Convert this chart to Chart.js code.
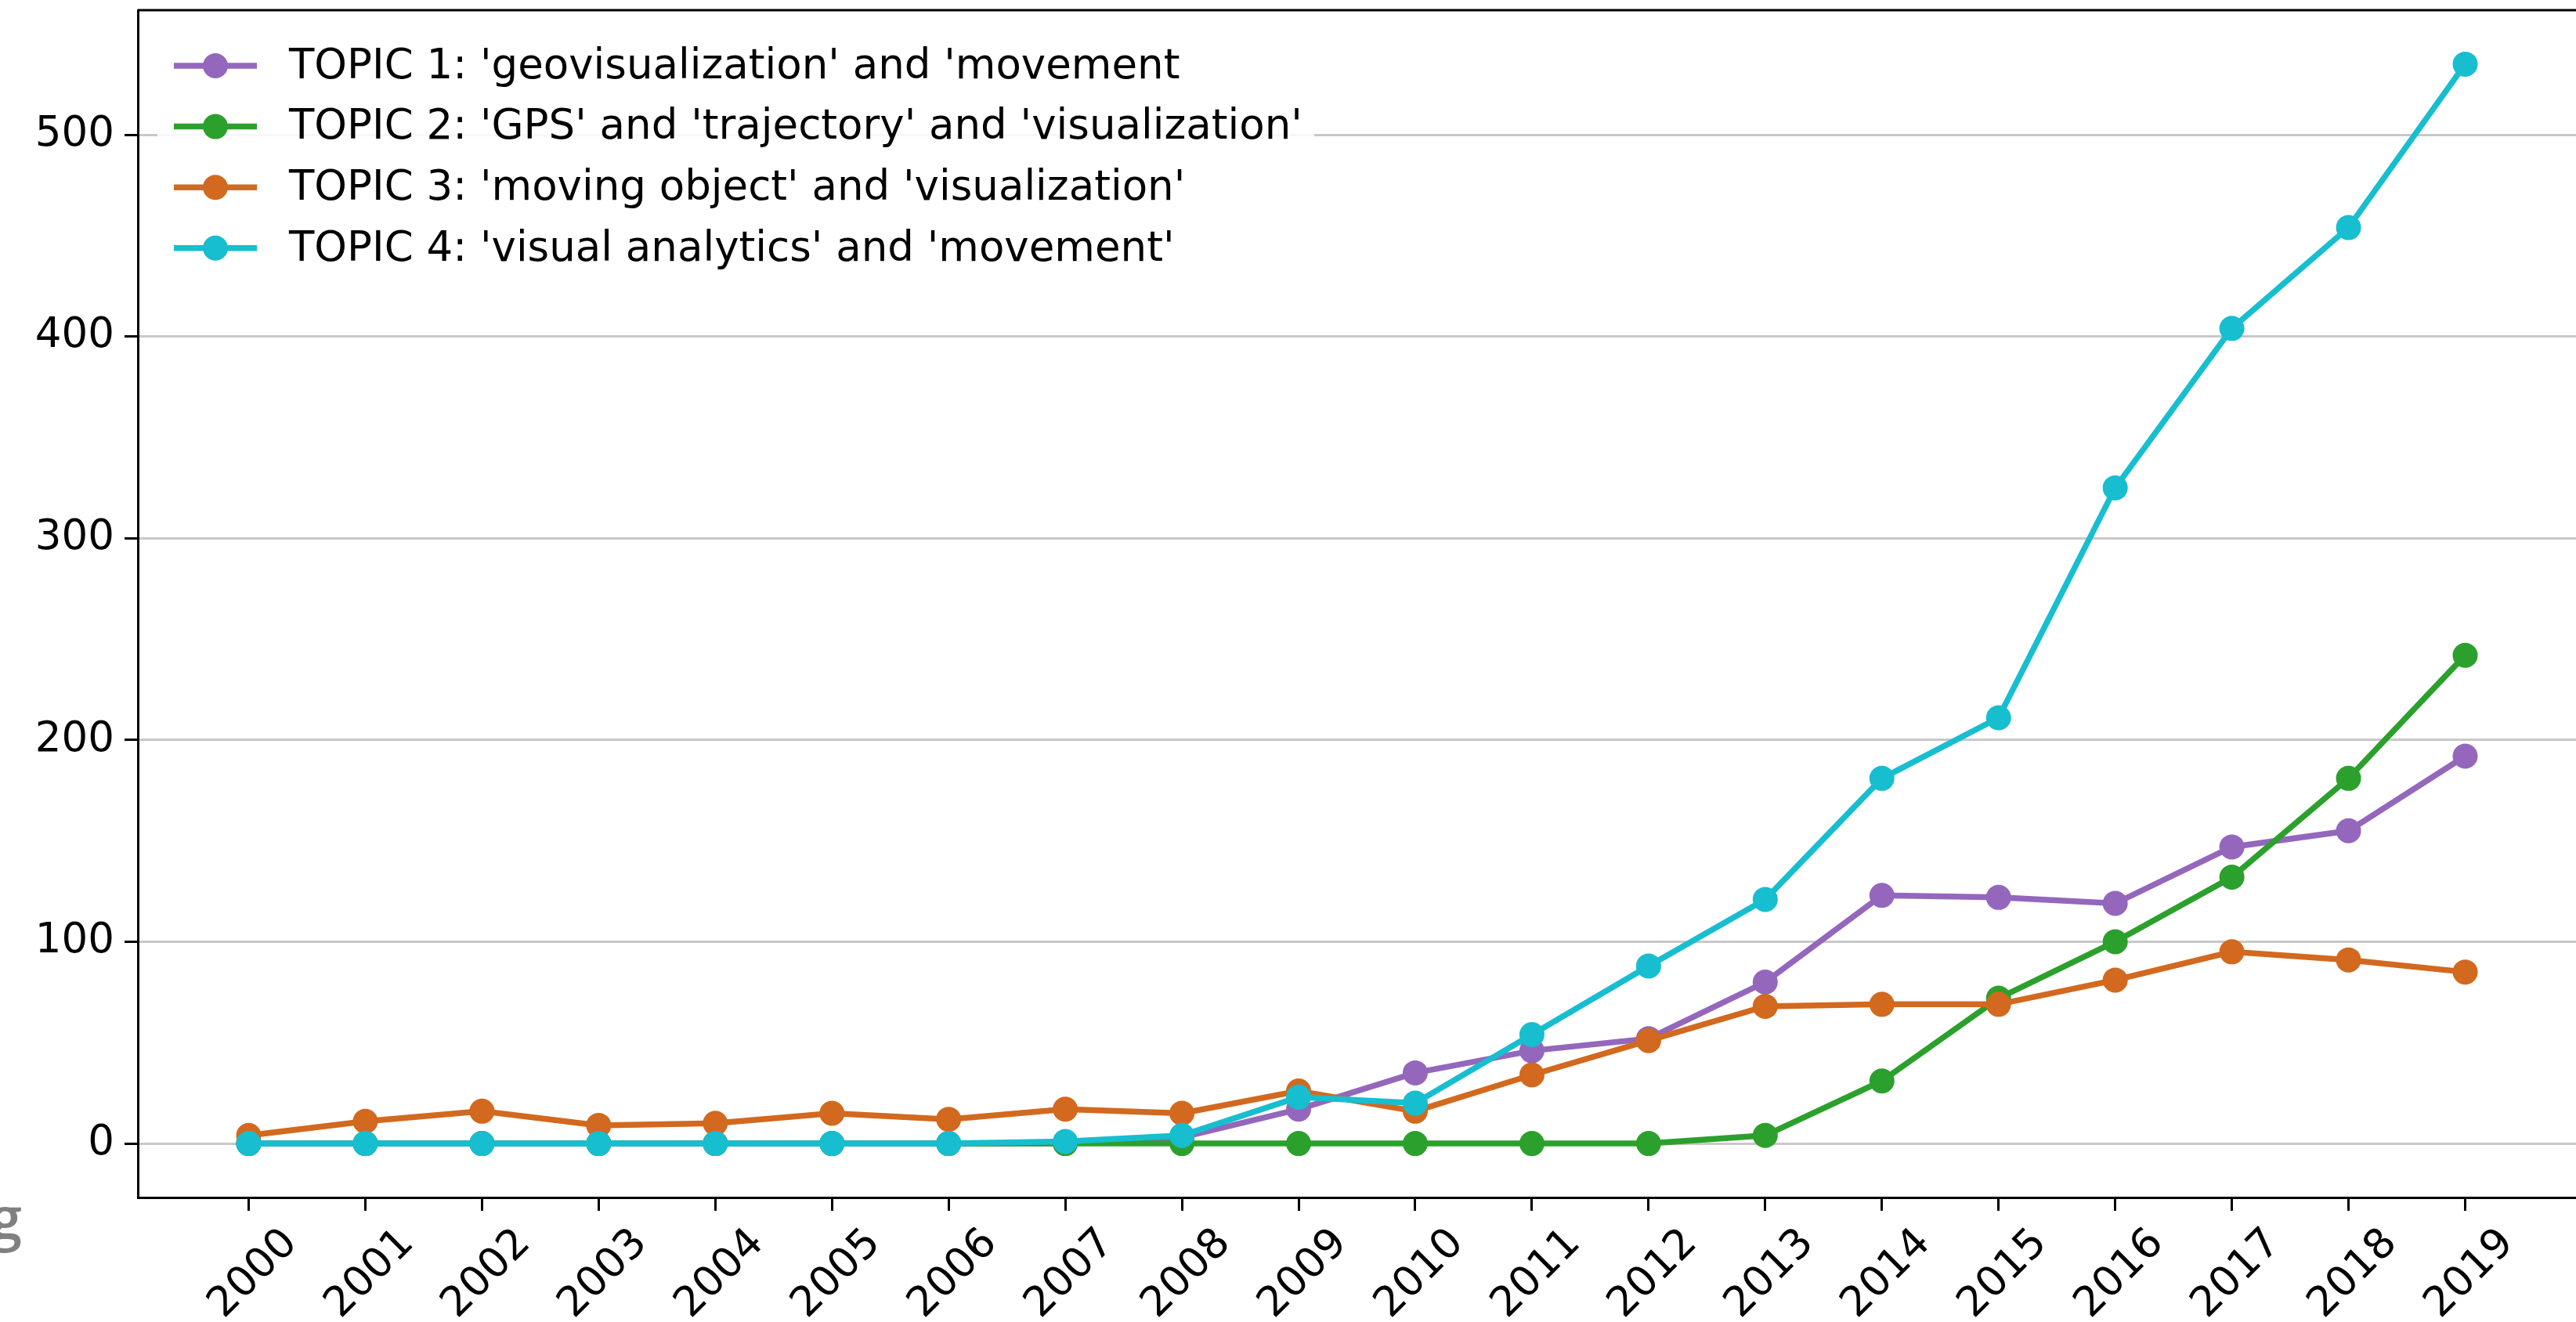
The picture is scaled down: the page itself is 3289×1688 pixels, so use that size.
<!DOCTYPE html>
<html>
<head>
<meta charset="utf-8">
<script src="https://cdn.jsdelivr.net/npm/chart.js@4/dist/chart.umd.min.js"></script>
<style>
  html, body { margin: 0; padding: 0; background: #fff; overflow: hidden; }
  #wrap { width: 3289px; height: 1688px; position: relative; }
  #chart { display: block; }
</style>
</head>
<body>
<div id="wrap"><canvas id="chart" width="3289" height="1688"></canvas></div>
<script>
const years = [2000, 2001, 2002, 2003, 2004, 2005, 2006, 2007, 2008, 2009,
               2010, 2011, 2012, 2013, 2014, 2015, 2016, 2017, 2018, 2019];

const topicLabels = [
  "TOPIC 1: 'geovisualization' and 'movement",
  "TOPIC 2: 'GPS' and 'trajectory' and 'visualization'",
  "TOPIC 3: 'moving object' and 'visualization'",
  "TOPIC 4: 'visual analytics' and 'movement'"
];
const topicColors = ['#9467bd', '#2ca02c', '#d2691e', '#17becf'];

const topic1 = [0, 0, 0, 0, 0, 0, 0, 0, 3, 17, 35, 46, 52, 80, 123, 122, 119, 147, 155, 192];
const topic2 = [0, 0, 0, 0, 0, 0, 0, 0, 0, 0, 0, 0, 0, 4, 31, 72, 100, 132, 181, 242];
const topic3 = [4, 11, 16, 9, 10, 15, 12, 17, 15, 26, 16, 34, 51, 68, 69, 69, 81, 95, 91, 85];
const topic4 = [0, 0, 0, 0, 0, 0, 0, 1, 4, 23, 20, 54, 88, 121, 181, 211, 325, 404, 454, 535];

const yTicks = [0, 100, 200, 300, 400, 500];

const FONT = '"DejaVu Sans", sans-serif';
const FS = 53;

const series = [topic1, topic2, topic3, topic4];
const datasets = series.map((vals, i) => ({
  label: topicLabels[i],
  data: vals.map((v, j) => ({ x: years[j], y: v })),
  borderColor: topicColors[i],
  backgroundColor: topicColors[i],
  borderWidth: 7.5,
  pointRadius: 16,
  pointBorderWidth: 0,
  pointHoverRadius: 16,
  tension: 0,
  order: series.length - i   // later topics on top, like matplotlib
}));

// top spine + stray gray glyph at bottom-left
const framePlugin = {
  id: 'frame',
  afterDraw(chart) {
    const { ctx, chartArea: a } = chart;
    ctx.save();
    ctx.strokeStyle = '#000';
    ctx.lineWidth = 3;
    ctx.beginPath();
    ctx.moveTo(a.left, a.top);
    ctx.lineTo(a.right, a.top);
    ctx.stroke();

    ctx.fillStyle = '#808080';
    ctx.font = '600 74px "Open Sans", sans-serif';
    ctx.textAlign = 'right';
    ctx.textBaseline = 'alphabetic';
    ctx.fillText('g', 28, 1582);
    ctx.restore();
  }
};

// matplotlib-style legend inside the axes (upper left)
const legendPlugin = {
  id: 'innerLegend',
  afterDatasetsDraw(chart) {
    const { ctx, chartArea: a } = chart;
    const x0 = a.left + 25, y0 = a.top + 25;
    const rowGap = 77.6, firstRow = y0 + 46;
    ctx.save();
    ctx.fillStyle = 'rgba(255,255,255,0.85)';
    ctx.fillRect(x0, y0, 1477, 330);
    ctx.font = FS + 'px ' + FONT;
    ctx.textBaseline = 'middle';
    ctx.textAlign = 'left';
    chart.data.datasets.forEach((ds, i) => {
      const y = firstRow + i * rowGap;
      ctx.strokeStyle = ds.borderColor;
      ctx.lineWidth = 7.5;
      ctx.beginPath();
      ctx.moveTo(x0 + 21, y);
      ctx.lineTo(x0 + 127, y);
      ctx.stroke();
      ctx.fillStyle = ds.borderColor;
      ctx.beginPath();
      ctx.arc(x0 + 74, y, 16, 0, Math.PI * 2);
      ctx.fill();
      ctx.fillStyle = '#000';
      ctx.fillText(ds.label, x0 + 168, y + 2);
    });
    ctx.restore();
  }
};

new Chart(document.getElementById('chart').getContext('2d'), {
  type: 'line',
  data: { datasets },
  plugins: [legendPlugin, framePlugin],
  options: {
    responsive: false,
    animation: false,
    devicePixelRatio: 1,
    layout: { autoPadding: false, padding: { top: 13, left: 0, right: 0, bottom: 0 } },
    plugins: {
      legend: { display: false },
      tooltip: { enabled: false }
    },
    scales: {
      x: {
        type: 'linear',
        min: years[0] - 0.95,
        max: years[years.length - 1] + 0.95,
        afterFit(scale) {
          scale.height = 159;
          scale.paddingLeft = 0;
          scale.paddingRight = 0;
        },
        afterBuildTicks(scale) {
          scale.ticks = years.map(v => ({ value: v }));
        },
        grid: {
          display: true,
          drawOnChartArea: false,
          drawTicks: true,
          tickLength: 17,
          tickColor: '#000',
          tickWidth: 3
        },
        border: { display: true, color: '#000', width: 3 },
        ticks: {
          autoSkip: false,
          minRotation: 45,
          maxRotation: 45,
          padding: 11,
          labelOffset: 54,
          color: '#000',
          font: { family: FONT, size: FS },
          callback: v => String(v)
        }
      },
      y: {
        min: -26.75,
        max: 561.75,
        afterFit(scale) {
          scale.width = 176;
          scale.paddingTop = 0;
          scale.paddingBottom = 0;
        },
        afterBuildTicks(scale) {
          scale.ticks = yTicks.map(v => ({ value: v }));
        },
        grid: {
          display: true,
          color: '#c8c8c8',
          lineWidth: 3,
          drawTicks: true,
          tickLength: 17,
          tickColor: '#000',
          tickWidth: 3
        },
        border: { display: true, color: '#000', width: 3 },
        ticks: {
          padding: 13,
          color: '#000',
          font: { family: FONT, size: FS },
          callback: v => String(v)
        }
      }
    }
  }
});
</script>
</body>
</html>
